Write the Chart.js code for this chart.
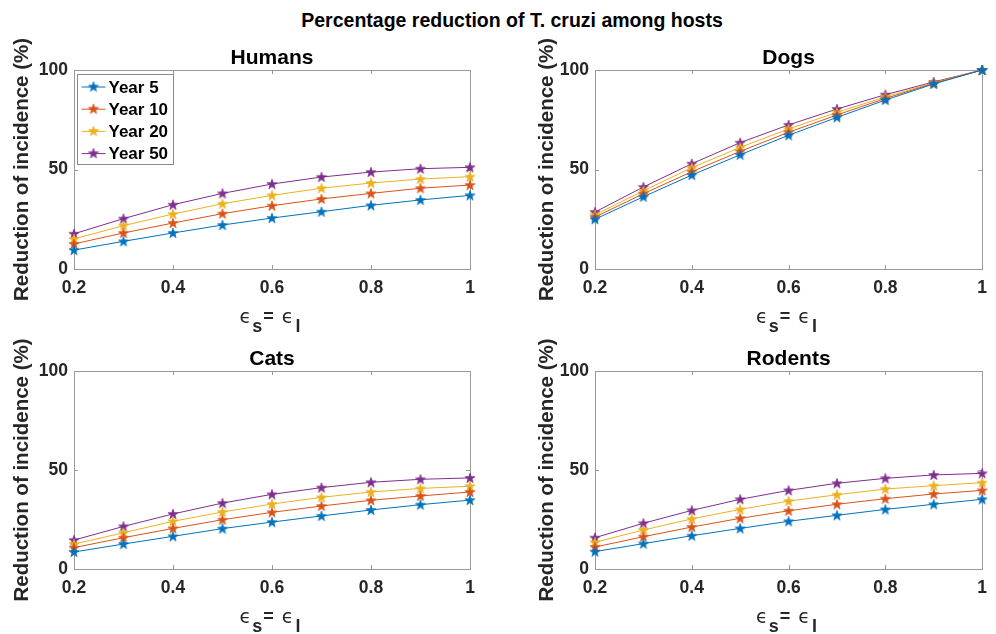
<!DOCTYPE html>
<html><head><meta charset="utf-8">
<script src="https://cdn.jsdelivr.net/npm/chart.js@4.4.0/dist/chart.umd.min.js"></script>
<style>
html,body{margin:0;padding:0;background:#fff;width:996px;height:634px;overflow:hidden;position:relative;font-family:"Liberation Sans",Arial,sans-serif}
#title{position:absolute;left:14px;width:996px;top:9px;text-align:center;font-weight:bold;font-size:19.5px;color:#000;line-height:22px}
.box{position:absolute}
canvas{display:block}
</style></head><body>
<div id="title">Percentage reduction of T. cruzi among hosts</div>
<div class="box" style="left:0;top:30px"><canvas id="c0" width="490" height="310"></canvas></div>
<div class="box" style="left:521px;top:30px"><canvas id="c1" width="475" height="310"></canvas></div>
<div class="box" style="left:0;top:331px"><canvas id="c2" width="490" height="303"></canvas></div>
<div class="box" style="left:521px;top:331px"><canvas id="c3" width="475" height="303"></canvas></div>
<script>
// ---- data ----
const xValues = [0.2, 0.3, 0.4, 0.5, 0.6, 0.7, 0.8, 0.9, 1.0];
const seriesNames = ['Year 5', 'Year 10', 'Year 20', 'Year 50'];
const panelTitles = ['Humans', 'Dogs', 'Cats', 'Rodents'];
const xTicks = [0.2, 0.4, 0.6, 0.8, 1];
const xTickLabels = ['0.2', '0.4', '0.6', '0.8', '1'];
const yTicks = [0, 50, 100];
const yTickLabels = ['0', '50', '100'];

const humansYear5  = [9.5, 13.9, 18.1, 22.1, 25.6, 28.8, 32.0, 34.7, 37.0];
const humansYear10 = [12.6, 18.1, 23.1, 27.8, 31.8, 35.2, 38.0, 40.6, 42.2];
const humansYear20 = [15.1, 21.8, 27.6, 32.8, 37.0, 40.6, 43.2, 45.2, 46.4];
const humansYear50 = [17.7, 25.3, 32.3, 38.0, 42.7, 46.2, 48.7, 50.4, 51.1];

const dogsYear5  = [25.0, 36.3, 47.2, 57.4, 67.2, 76.2, 84.9, 93.0, 100];
const dogsYear10 = [26.1, 37.8, 48.9, 59.1, 68.7, 77.4, 85.7, 93.3, 100];
const dogsYear20 = [27.2, 39.3, 50.9, 61.1, 70.4, 78.7, 86.5, 93.6, 100];
const dogsYear50 = [28.6, 41.2, 52.9, 63.5, 72.4, 80.4, 87.6, 94.0, 100];

const catsYear5  = [8.6, 12.6, 16.5, 20.4, 23.7, 26.8, 29.8, 32.5, 34.8];
const catsYear10 = [10.8, 15.8, 20.5, 24.9, 28.6, 31.8, 34.7, 36.9, 38.9];
const catsYear20 = [12.6, 18.3, 24.1, 28.8, 32.8, 36.2, 38.9, 40.7, 41.8];
const catsYear50 = [14.6, 21.5, 27.8, 33.3, 37.7, 41.1, 43.8, 45.3, 46.0];

const rodentsYear5  = [8.8, 12.8, 16.8, 20.5, 24.1, 27.1, 30.1, 32.7, 35.2];
const rodentsYear10 = [11.1, 16.3, 21.2, 25.6, 29.4, 32.7, 35.5, 37.9, 39.7];
const rodentsYear20 = [13.5, 19.7, 25.3, 30.1, 34.3, 37.5, 40.4, 42.1, 43.6];
const rodentsYear50 = [15.8, 23.1, 29.6, 35.2, 39.7, 43.3, 45.8, 47.5, 48.3];

const seriesColors = ['#0072BD', '#D95319', '#EDB120', '#7E2F8E'];

// ---- helpers ----
function starImg(color) {
  const c = document.createElement('canvas');
  c.width = 12; c.height = 12;
  const g = c.getContext('2d');
  g.beginPath();
  for (let k = 0; k < 10; k++) {
    const r = k % 2 ? 2.2 : 5.4;
    const a = -Math.PI / 2 + k * Math.PI / 5;
    const px = 6 + r * Math.cos(a), py = 6.4 + r * Math.sin(a);
    if (k) g.lineTo(px, py); else g.moveTo(px, py);
  }
  g.closePath();
  g.fillStyle = color; g.fill();
  g.strokeStyle = color; g.lineWidth = 0.6; g.stroke();
  return c;
}
const stars = seriesColors.map(starImg);
const FRAME = '#999999';
const TXT = '#262626';

const framePlugin = {
  id: 'frame',
  beforeDatasetsDraw(chart) {
    const { ctx, chartArea: a, scales } = chart;
    ctx.save();
    ctx.strokeStyle = FRAME; ctx.lineWidth = 1;
    ctx.strokeRect(Math.round(a.left) + 0.5, Math.round(a.top) + 0.5, Math.round(a.right - a.left), Math.round(a.bottom - a.top));
    const L = 4;
    ctx.beginPath();
    scales.x.ticks.forEach(t => {
      const px = Math.round(scales.x.getPixelForValue(t.value)) + 0.5;
      ctx.moveTo(px, a.bottom); ctx.lineTo(px, a.bottom - L);
      ctx.moveTo(px, a.top); ctx.lineTo(px, a.top + L);
    });
    scales.y.ticks.forEach(t => {
      const py = Math.round(scales.y.getPixelForValue(t.value)) + 0.5;
      ctx.moveTo(a.left, py); ctx.lineTo(a.left + L, py);
      ctx.moveTo(a.right, py); ctx.lineTo(a.right - L, py);
    });
    ctx.stroke();
    ctx.restore();
  }
};

const panelTitlePlugin = {
  id: 'panelTitle',
  afterDraw(chart, args, opts) {
    const { ctx, chartArea: a } = chart;
    ctx.save();
    ctx.font = 'bold 21px "Liberation Sans"';
    ctx.fillStyle = '#000'; ctx.textAlign = 'center'; ctx.textBaseline = 'alphabetic';
    ctx.fillText(opts.text, (a.left + a.right) / 2, a.top - 6);
    ctx.restore();
  }
};

const xTitlePlugin = {
  id: 'xTitle',
  afterDraw(chart) {
    const { ctx, chartArea: a } = chart;
    const parts = [
      { t: '\u03F5', f: '19px "DejaVu Sans"', dy: 0, gap: 0 },
      { t: 's', f: 'bold 18px "Liberation Sans"', dy: 9, gap: 1 },
      { t: '=', f: 'bold 18px "Liberation Sans"', dy: -1, gap: 1 },
      { t: '\u03F5', f: '19px "DejaVu Sans"', dy: 0, gap: 8 },
      { t: 'l', f: 'bold 18px "Liberation Sans"', dy: 9, gap: 2 }
    ];
    ctx.save();
    let total = 0;
    parts.forEach(p => { ctx.font = p.f; p.w = ctx.measureText(p.t).width; total += p.w + p.gap; });
    let x = (a.left + a.right) / 2 - total / 2 - 2;
    const base = a.bottom + 54;
    ctx.fillStyle = TXT; ctx.textBaseline = 'alphabetic'; ctx.textAlign = 'left';
    parts.forEach(p => { x += p.gap; ctx.font = p.f; ctx.fillText(p.t, x, base + p.dy); x += p.w; });
    ctx.restore();
  }
};

const legendPlugin = {
  id: 'boxLegend',
  afterDatasetsDraw(chart, args, opts) {
    if (!opts.show) return;
    const { ctx, chartArea: a } = chart;
    const left = a.left + 3.5, top = a.top + 4.5, w = 96, h = 90;
    ctx.save();
    ctx.fillStyle = '#fff'; ctx.fillRect(left, top, w, h);
    ctx.strokeStyle = '#8a8a8a'; ctx.lineWidth = 1; ctx.strokeRect(left, top, w, h);
    ctx.font = 'bold 17px "Liberation Sans"';
    ctx.textBaseline = 'middle'; ctx.textAlign = 'left';
    chart.data.datasets.forEach((ds, i) => {
      const y = top + 12.5 + i * 22.2;
      ctx.strokeStyle = ds.borderColor; ctx.lineWidth = 1;
      ctx.beginPath(); ctx.moveTo(left + 4, y); ctx.lineTo(left + 28, y); ctx.stroke();
      ctx.drawImage(stars[i], left + 16 - 6, y - 6.4);
      ctx.fillStyle = '#000';
      ctx.fillText(ds.label, left + 31, y + 1);
    });
    ctx.restore();
  }
};

function makePanel(id, title, seriesList, rightPad, showLegend, yTitlePad) {
  const canvas = document.getElementById(id);
  const plotH = id === 'c0' || id === 'c1' ? 199 : 198;
  const xH = canvas.height - 40 - plotH;
  return new Chart(canvas, {
    type: 'line',
    data: {
      datasets: seriesList.map((arr, i) => ({
        label: seriesNames[i],
        data: xValues.map((x, j) => ({ x: x, y: arr[j] })),
        borderColor: seriesColors[i],
        backgroundColor: seriesColors[i],
        borderWidth: 1,
        pointStyle: stars[i],
        pointRadius: 5,
        pointHoverRadius: 5,
        tension: 0,
        clip: false,
        fill: false
      }))
    },
    options: {
      responsive: false,
      animation: false,
      events: [],
      layout: { padding: { left: 0, right: rightPad, top: 40, bottom: 0 } },
      plugins: {
        legend: { display: false },
        tooltip: { enabled: false },
        title: { display: false },
        panelTitle: { text: title },
        boxLegend: { show: showLegend }
      },
      scales: {
        x: {
          type: 'linear', min: 0.2, max: 1,
          afterBuildTicks: s => { s.ticks = xTicks.map(v => ({ value: v })); },
          afterFit: s => { s.height = xH; },
          grid: { display: false, drawTicks: false },
          border: { display: false },
          ticks: {
            autoSkip: false, maxRotation: 0, padding: 9, color: TXT,
            font: { family: '"Liberation Sans"', size: 17.5, weight: 'bold' },
            callback: (v, i) => xTickLabels[i]
          },
          title: { display: false }
        },
        y: {
          type: 'linear', min: 0, max: 100,
          afterBuildTicks: s => { s.ticks = yTicks.map(v => ({ value: v })); },
          afterFit: s => { s.width = 74; },
          grid: { display: false, drawTicks: false },
          border: { display: false },
          ticks: {
            autoSkip: false, padding: 6, color: TXT,
            font: { family: '"Liberation Sans"', size: 17.5, weight: 'bold' },
            callback: (v, i) => yTickLabels[i]
          },
          title: {
            display: true, text: 'Reduction of incidence (%)', color: TXT,
            font: { family: '"Liberation Sans"', size: 20.5, weight: 'bold', lineHeight: 1.2 },
            padding: { top: yTitlePad, bottom: 0 }
          }
        }
      }
    },
    plugins: [framePlugin, panelTitlePlugin, xTitlePlugin, legendPlugin]
  });
}

makePanel('c0', panelTitles[0], [humansYear5, humansYear10, humansYear20, humansYear50], 20, true, 9.7);
makePanel('c1', panelTitles[1], [dogsYear5, dogsYear10, dogsYear20, dogsYear50], 5, false, 13.7);
makePanel('c2', panelTitles[2], [catsYear5, catsYear10, catsYear20, catsYear50], 20, false, 9.7);
makePanel('c3', panelTitles[3], [rodentsYear5, rodentsYear10, rodentsYear20, rodentsYear50], 5, false, 13.7);
</script>
</body></html>
